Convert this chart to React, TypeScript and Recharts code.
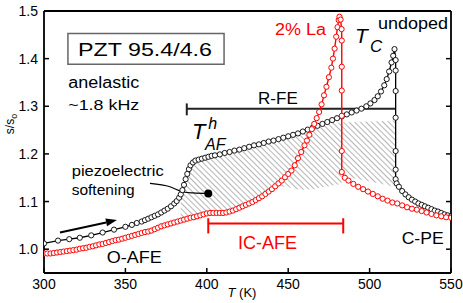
import { ComposedChart, Line, Area, XAxis, YAxis, ReferenceLine, ReferenceDot, ReferenceArea, Label } from 'recharts'

const FONT = '"Liberation Sans", Arial, sans-serif'
const RED = '#ff0000'

// [T (K), s/s0] undoped PZT 95.4/4.6
const undoped: [number, number][] = [
  [300, 1.012], [308.6, 1.018], [315.5, 1.021], [322, 1.024], [329, 1.029], [336, 1.035], [343, 1.041], [350, 1.047],
  [354, 1.051], [357, 1.055], [360, 1.058], [362, 1.061], [364, 1.064], [366, 1.067], [368, 1.070], [370, 1.073],
  [372, 1.077], [374, 1.081], [376, 1.085], [378, 1.090], [380, 1.096], [381.5, 1.101], [383, 1.108], [384, 1.115],
  [385, 1.124], [386, 1.135], [387, 1.147], [388, 1.158], [389, 1.168], [390, 1.176], [391.5, 1.182], [393, 1.186],
  [395, 1.188], [397, 1.190], [399, 1.192], [401, 1.194], [403, 1.196], [405, 1.197], [408, 1.199], [411, 1.202],
  [414, 1.204], [417, 1.207], [420, 1.209], [423, 1.212], [426, 1.215], [429, 1.218], [432, 1.220], [435, 1.223],
  [438, 1.226], [441, 1.228], [444, 1.231], [447, 1.234], [450, 1.237], [453, 1.240], [456, 1.243], [459, 1.247],
  [462, 1.251], [465, 1.255], [468, 1.259], [471, 1.263], [474, 1.267], [477, 1.271], [480, 1.275], [483, 1.279],
  [486, 1.283], [489, 1.287], [492, 1.291], [495, 1.295], [498, 1.300], [500.5, 1.306], [503, 1.313], [505, 1.321],
  [507, 1.331], [509, 1.344], [510.5, 1.357], [512, 1.373], [513.5, 1.392], [514.5, 1.406], [515.3, 1.420],
  [516, 1.397], [516, 1.375], [516, 1.332], [516, 1.276], [516, 1.206], [516, 1.167], [516, 1.147], [516.6, 1.138],
  [518, 1.131], [520, 1.122], [522, 1.115], [524, 1.109], [526, 1.104], [528, 1.100], [530, 1.096], [532, 1.093],
  [534, 1.090], [536, 1.087], [538, 1.084], [540, 1.081], [542, 1.079], [544, 1.076], [546, 1.073], [548, 1.071],
  [550, 1.069],
]

// [T (K), s/s0] 2% La
const la2: [number, number][] = [
  [300, 0.991], [302, 0.991], [304, 0.991], [306, 0.992], [308, 0.993], [310, 0.994], [312, 0.995], [314, 0.996],
  [316, 0.997], [318, 0.998], [320, 0.999], [322, 1.001], [324, 1.002], [326, 1.003], [328, 1.005], [330, 1.006],
  [332, 1.008], [334, 1.010], [336, 1.011], [338, 1.013], [340, 1.015], [342, 1.017], [344, 1.019], [346, 1.020],
  [348, 1.022], [350, 1.024], [352, 1.026], [354, 1.028], [356, 1.030], [358, 1.032], [360, 1.034], [362, 1.036],
  [364, 1.037], [366, 1.039], [368, 1.042], [370, 1.045], [372, 1.048], [374, 1.050], [376, 1.052], [378, 1.054],
  [380, 1.056], [382, 1.058], [384, 1.060], [386, 1.062], [388, 1.064], [390, 1.066], [392, 1.067], [394, 1.069],
  [396, 1.071], [398, 1.073], [400, 1.075], [402, 1.076], [404, 1.076], [406, 1.076], [408, 1.076], [410, 1.076],
  [412, 1.077], [414, 1.079], [416, 1.081], [418, 1.084], [420, 1.087], [422, 1.090], [424, 1.093], [426, 1.096],
  [428, 1.099], [430, 1.103], [432, 1.107], [434, 1.111], [436, 1.116], [438, 1.121], [440, 1.126], [442, 1.132],
  [444, 1.138], [446, 1.144], [448, 1.151], [450, 1.158], [452, 1.165], [454, 1.176], [456, 1.191], [458, 1.204],
  [460, 1.218], [461.5, 1.228], [463, 1.240], [464.5, 1.252], [466, 1.263], [467.5, 1.275], [469, 1.288], [470.5, 1.304],
  [472, 1.323], [473.5, 1.341], [475, 1.361], [476.5, 1.381], [477.5, 1.400], [478.5, 1.421], [479.5, 1.446], [480.3, 1.466],
  [481, 1.481], [481.5, 1.488], [482.2, 1.482], [482.8, 1.462], [482.9, 1.438], [482.9, 1.383], [482.9, 1.333], [482.9, 1.280],
  [482.9, 1.206], [482.9, 1.162], [484.8, 1.150], [487, 1.144], [490, 1.137], [493, 1.131], [496, 1.126], [499, 1.121],
  [502, 1.116], [505, 1.111], [508, 1.106], [511, 1.102], [514, 1.098], [517, 1.096], [520, 1.092], [523, 1.088],
  [526, 1.085], [529, 1.083], [532, 1.080], [535, 1.077], [538, 1.074], [541, 1.071], [544, 1.069], [547, 1.067],
  [550, 1.066],
]

// hatched region [T, lower, upper]
const hatch: [number, number, number][] = [
  [384, 1.060, 1.115], [386, 1.062, 1.135], [388, 1.064, 1.158], [390, 1.066, 1.176], [393, 1.068, 1.186],
  [396, 1.071, 1.189], [400, 1.075, 1.193], [405, 1.076, 1.197], [410, 1.076, 1.201], [415, 1.080, 1.205],
  [420, 1.087, 1.209], [425, 1.094, 1.214], [430, 1.103, 1.218], [435, 1.113, 1.222], [440, 1.126, 1.226],
  [445, 1.132, 1.232], [450, 1.130, 1.237], [455, 1.126, 1.242], [460, 1.125, 1.249], [465, 1.126, 1.255],
  [470, 1.129, 1.262], [475, 1.132, 1.265], [482.8, 1.137, 1.266], [482.9, 1.156, 1.266], [490, 1.149, 1.267],
  [500, 1.142, 1.268], [510, 1.135, 1.269], [516, 1.130, 1.270],
]

// "piezoelectric softening" pointer
const pointer: [number, number][] = [[365.1, 1.138], [377.4, 1.131], [385.6, 1.120], [391.5, 1.118], [400.9, 1.117]]

const xTicks = [300, 350, 400, 450, 500, 550]
const topTicks = [350, 400, 450, 500]
const yTicks = [1.0, 1.1, 1.2, 1.3, 1.4, 1.5]
const rightTicks = [1.0, 1.1, 1.2, 1.3, 1.4]

const rows = (a: [number, number][]) => a.map(([T, s]) => ({ T, s }))
const hatchRows = hatch.map(([T, lo, hi]) => ({ T, range: [lo, hi] }))

const M = 6
const BottomTick = ({ x, y, payload }: any) => {
  const ay = y - M
  return (
    <g>
      <line x1={x} x2={x} y1={ay} y2={ay - 5} stroke="#000" strokeWidth={1.5} />
      <text x={x} y={ay + 15.5} textAnchor="middle" fontSize={14} fontFamily={FONT} fill="#000">{payload.value}</text>
    </g>
  )
}
const TopTick = ({ x, y }: any) => {
  const ay = y + M
  return <line x1={x} x2={x} y1={ay} y2={ay + 5} stroke="#000" strokeWidth={1.5} />
}
const LeftTick = ({ x, y, payload }: any) => {
  const ax = x + M
  return (
    <g>
      <line x1={ax} x2={ax + 5} y1={y} y2={y} stroke="#000" strokeWidth={1.5} />
      <text x={ax - 6} y={y + 5} textAnchor="end" fontSize={14} fontFamily={FONT} fill="#000">{Number(payload.value).toFixed(1)}</text>
    </g>
  )
}
const RightTick = ({ x, y }: any) => {
  const ax = x - M
  return <line x1={ax} x2={ax - 5} y1={y} y2={y} stroke="#000" strokeWidth={1.5} />
}

const note = (key: string, T: number, s: number, body: any, props: any = {}) => (
  <ReferenceDot key={key} x={T} y={s} r={0} ifOverflow="visible"
    shape={(p: any) => <text x={p.cx} y={p.cy} fontFamily={FONT} fill="#000" {...props}>{body}</text>} />
)

const Arrow = (p: any) => {
  const { x1, y1, x2, y2 } = p
  const a = Math.atan2(y2 - y1, x2 - x1)
  const L = 11, W = 4
  const bx = x2 - L * Math.cos(a), by = y2 - L * Math.sin(a)
  const nx = -Math.sin(a) * W, ny = Math.cos(a) * W
  return (
    <g>
      <line x1={x1} y1={y1} x2={bx} y2={by} stroke="#000" strokeWidth={2} />
      <polygon points={`${x2},${y2} ${bx + nx},${by + ny} ${bx - nx},${by - ny}`} fill="#000" />
    </g>
  )
}

const axisLine = { stroke: '#000', strokeWidth: 1.8 }

export default function App() {
  return (
    <div style={{ position: 'absolute', left: 0, top: 0, background: '#fff' }}>
      <ComposedChart width={463} height={303} margin={{ top: 0, right: 0, bottom: 0, left: 0 }}>
        <defs>
          <pattern id="hatch" patternUnits="userSpaceOnUse" width={4} height={4} patternTransform="rotate(-45)">
            <line x1={0} y1={0} x2={0} y2={4} stroke="#777" strokeWidth={1.1} />
          </pattern>
        </defs>
        <XAxis dataKey="T" type="number" domain={[300, 550]} ticks={xTicks} allowDataOverflow height={30}
          tickSize={0} tickMargin={M} tickLine={false} axisLine={axisLine} tick={<BottomTick />}>
          <Label content={(p: any) => {
            const vb = p.viewBox
            return (
              <text x={vb.x + 198} y={vb.y + 23.5} textAnchor="middle" fontSize={13} fontFamily={FONT} fill="#000">
                <tspan fontStyle="italic">T</tspan> (K)
              </text>
            )
          }} />
        </XAxis>
        <XAxis xAxisId="top" orientation="top" type="number" domain={[300, 550]} ticks={topTicks} allowDataOverflow height={11}
          tickSize={0} tickMargin={M} tickLine={false} axisLine={axisLine} tick={<TopTick />} />
        <YAxis type="number" domain={[0.95, 1.5]} ticks={yTicks} allowDataOverflow width={44}
          tickSize={0} tickMargin={M} tickLine={false} axisLine={axisLine} tick={<LeftTick />}>
          <Label content={(p: any) => {
            const vb = p.viewBox
            const cx = vb.x + 14, cy = vb.y + 113
            return (
              <text x={cx} y={cy} transform={`rotate(-90, ${cx}, ${cy})`} textAnchor="middle" fontSize={12} fontFamily={FONT} fill="#000">
                s/s<tspan fontSize={9} dy={3}>o</tspan>
              </text>
            )
          }} />
        </YAxis>
        <YAxis yAxisId="right" orientation="right" type="number" domain={[0.95, 1.5]} ticks={rightTicks} allowDataOverflow width={12}
          tickSize={0} tickMargin={M} tickLine={false} axisLine={axisLine} tick={<RightTick />} />

        <Area data={hatchRows} dataKey="range" type="linear" stroke="none" fill="url(#hatch)" fillOpacity={1} isAnimationActive={false} />

        <ReferenceArea x1={314.7} x2={410.6} y1={1.388} y2={1.453} fill="#fff" fillOpacity={1} stroke="#666" strokeWidth={1.5} ifOverflow="visible" />

        <ReferenceLine segment={[{ x: 387.7, y: 1.295 }, { x: 515.8, y: 1.295 }]} stroke="#222" strokeWidth={2} />
        <ReferenceLine segment={[{ x: 387.7, y: 1.281 }, { x: 387.7, y: 1.306 }]} stroke="#222" strokeWidth={2} />

        <Line data={rows(pointer)} dataKey="s" type="monotone" stroke="#000" strokeWidth={1.2} dot={false} isAnimationActive={false} />
        <ReferenceDot x={400.9} y={1.117} r={4} fill="#000" stroke="none" />

        <ReferenceLine segment={[{ x: 309.8, y: 1.035 }, { x: 344.8, y: 1.061 }]} shape={<Arrow />} />

        <Line data={rows(undoped)} dataKey="s" type="linear" stroke="#000" strokeWidth={1.3}
          dot={{ r: 2.6, fill: '#fff', stroke: '#000', strokeWidth: 0.9 }} isAnimationActive={false} />
        <Line data={rows(la2)} dataKey="s" type="linear" stroke={RED} strokeWidth={1.4}
          dot={{ r: 2.6, fill: '#fff', stroke: RED, strokeWidth: 1 }} isAnimationActive={false} />

        <ReferenceLine segment={[{ x: 400.9, y: 1.054 }, { x: 483.8, y: 1.054 }]} stroke={RED} strokeWidth={2} />
        <ReferenceLine segment={[{ x: 400.9, y: 1.033 }, { x: 400.9, y: 1.065 }]} stroke={RED} strokeWidth={2} />
        <ReferenceLine segment={[{ x: 483.8, y: 1.033 }, { x: 483.8, y: 1.065 }]} stroke={RED} strokeWidth={2} />

        {note('pzt', 320.9, 1.406, 'PZT 95.4/4.6', { fontSize: 18, textLength: 134, lengthAdjust: 'spacingAndGlyphs' })}
        {note('anel', 314.9, 1.339, 'anelastic', { fontSize: 16, textLength: 71, lengthAdjust: 'spacingAndGlyphs' })}
        {note('khz', 314.9, 1.292, '~1.8 kHz', { fontSize: 15, textLength: 71, lengthAdjust: 'spacingAndGlyphs' })}
        {note('la', 441.9, 1.449, '2% La', { fontSize: 16, fill: RED, textLength: 51, lengthAdjust: 'spacingAndGlyphs' })}
        {note('tc', 491, 1.432, 'T', { fontSize: 21, fontStyle: 'italic' })}
        {note('tcs', 500.2, 1.414, 'C', { fontSize: 17, fontStyle: 'italic' })}
        {note('und', 505.2, 1.462, 'undoped', { fontSize: 16, textLength: 70, lengthAdjust: 'spacingAndGlyphs' })}
        {note('rfe', 443.7, 1.304, 'R-FE', { fontSize: 17, textAnchor: 'middle' })}
        {note('taf', 390.9, 1.232, 'T', { fontSize: 22, fontStyle: 'italic' })}
        {note('tafh', 400.9, 1.253, 'h', { fontSize: 16, fontStyle: 'italic' })}
        {note('tafs', 398.9, 1.208, 'AF', { fontSize: 16, fontStyle: 'italic' })}
        {note('piezo', 317, 1.153, 'piezoelectric', { fontSize: 15, textLength: 92, lengthAdjust: 'spacingAndGlyphs' })}
        {note('soft', 317, 1.113, 'softening', { fontSize: 15, textLength: 63, lengthAdjust: 'spacingAndGlyphs' })}
        {note('oafe', 338.5, 0.970, 'O-AFE', { fontSize: 16, textLength: 55, lengthAdjust: 'spacingAndGlyphs' })}
        {note('icafe', 437.3, 1.0, 'IC-AFE', { fontSize: 18, fill: RED, textAnchor: 'middle' })}
        {note('cpe', 519.7, 1.010, 'C-PE', { fontSize: 17, textLength: 42, lengthAdjust: 'spacingAndGlyphs' })}
      </ComposedChart>
    </div>
  )
}
